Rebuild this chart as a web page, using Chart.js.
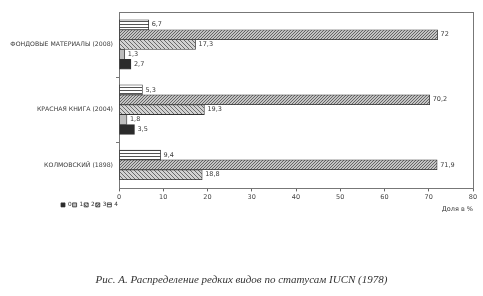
<!DOCTYPE html>
<html>
<head>
<meta charset="utf-8">
<script src="https://cdn.jsdelivr.net/npm/chart.js@4/dist/chart.umd.min.js"></script>
<style>
	html, body { margin: 0; padding: 0; background: #fff; }
	#wrap { width: 483px; height: 296px; position: relative; }
</style>
</head>
<body>
<div id="wrap"><canvas id="chart"></canvas></div>
<script>
// categories, top to bottom
var categories = ['ФОНДОВЫЕ МАТЕРИАЛЫ (2008)', 'КРАСНАЯ КНИГА (2004)', 'КОЛМОВСКИЙ (1898)'];
// IUCN statuses, values in %
var status4 = [6.7, 5.3, 9.4];
var status3 = [72, 70.2, 71.9];
var status2 = [17.3, 19.3, 18.8];
var status1 = [1.3, 1.8, null];
var status0 = [2.7, 3.5, null];
var xMin = 0, xMax = 80, xStep = 10;
var xTitle = 'Доля в %';
var caption = 'Рис. А. Распределение редких видов по статусам IUCN (1978)';

// the last band is cut off by the axis in the original
var yMax = 2.21;

Chart.defaults.font.family = 'DejaVu Sans';
Chart.defaults.font.size = 6.5;
Chart.defaults.color = '#3a3a3a';

function makePattern(kind) {
	var c = document.createElement('canvas');
	var g = c.getContext('2d');
	if (kind == 'hlines') {
		c.width = 3; c.height = 3;
		g.fillStyle = '#fff'; g.fillRect(0, 0, 3, 3);
		g.fillStyle = '#555'; g.fillRect(0, 0, 3, 1);
	} else if (kind == 'dense') {
		c.width = 3; c.height = 3;
		g.fillStyle = '#c4c4c4'; g.fillRect(0, 0, 3, 3);
		g.fillStyle = '#666';
		g.fillRect(0, 2, 1, 1); g.fillRect(1, 1, 1, 1); g.fillRect(2, 0, 1, 1);
	} else {
		c.width = 4; c.height = 4;
		g.fillStyle = '#d2d2d2'; g.fillRect(0, 0, 4, 4);
		g.fillStyle = '#6a6a6a';
		g.fillRect(0, 0, 1, 1); g.fillRect(1, 1, 1, 1); g.fillRect(2, 2, 1, 1); g.fillRect(3, 3, 1, 1);
	}
	return g.createPattern(c, 'repeat');
}

function points(values) {
	var out = [];
	values.forEach(function(v, i) {
		if (v !== null) out.push({ x: v, y: i });
	});
	return out;
}

var series = [
	{ label: '4', values: status4, fill: makePattern('hlines') },
	{ label: '3', values: status3, fill: makePattern('dense') },
	{ label: '2', values: status2, fill: makePattern('diag') },
	{ label: '1', values: status1, fill: '#bdbdbd' },
	{ label: '0', values: status0, fill: '#2b2b2b' }
];

var datasets = series.map(function(s) {
	return {
		label: s.label,
		data: points(s.values),
		backgroundColor: s.fill,
		borderColor: '#333',
		borderWidth: 0.8,
		borderSkipped: false,
		barThickness: 'flex',
		categoryPercentage: 0.76,
		barPercentage: 1
	};
});

var valueLabels = {
	id: 'valueLabels',
	afterDatasetsDraw: function(chart) {
		var ctx = chart.ctx;
		ctx.save();
		ctx.font = '6.5px "DejaVu Sans"';
		ctx.fillStyle = '#3a3a3a';
		ctx.textBaseline = 'middle';
		chart.data.datasets.forEach(function(ds, i) {
			chart.getDatasetMeta(i).data.forEach(function(bar, j) {
				ctx.fillText(String(ds.data[j].x).replace('.', ','), bar.x + 3, bar.y);
			});
		});
		ctx.restore();
	}
};

var frame = {
	id: 'frame',
	beforeDatasetsDraw: function(chart) {
		var a = chart.chartArea, ctx = chart.ctx, y = chart.scales.y;
		ctx.save();
		ctx.strokeStyle = '#777';
		ctx.lineWidth = 1;
		ctx.strokeRect(Math.round(a.left) + 0.5, Math.round(a.top) + 0.5, Math.round(a.right - a.left), Math.round(a.bottom - a.top));
		[0.5, 1.5].forEach(function(v) {
			var py = Math.round(y.getPixelForValue(v)) + 0.5;
			ctx.beginPath();
			ctx.moveTo(a.left - 3, py);
			ctx.lineTo(a.left, py);
			ctx.stroke();
		});
		ctx.restore();
	}
};

// legend sits under the category labels, caption centred on the page
var boxShift = {
	id: 'boxShift',
	afterLayout: function(chart) {
		chart.legend.left = 60;
		chart.titleBlock.right = chart.width;
	}
};

new Chart(document.getElementById('chart'), {
	type: 'bar',
	data: { datasets: datasets },
	options: {
		indexAxis: 'y',
		responsive: true,
		maintainAspectRatio: false,
		animation: false,
		layout: { padding: { top: 12, right: 10, left: 0, bottom: 0 } },
		scales: {
			x: {
				type: 'linear',
				min: xMin,
				max: xMax,
				ticks: { stepSize: xStep, padding: 2, color: '#444' },
				grid: { drawOnChartArea: false, tickLength: 3, color: '#666' },
				border: { color: '#666' },
				title: {
					display: true,
					text: xTitle,
					align: 'end',
					color: '#333',
					font: { size: 6.5 },
					padding: { top: 2, bottom: -12 }
				}
			},
			y: {
				type: 'linear',
				reverse: true,
				offset: false,
				min: -0.5,
				max: yMax,
				afterBuildTicks: function(axis) {
					axis.ticks = [0, 1, (1.5 + yMax) / 2].map(function(v) { return { value: v }; });
				},
				afterFit: function(axis) { axis.width = 119; },
				ticks: {
					padding: 6,
					color: '#3a3a3a',
					font: { size: 6.2 },
					callback: function(v, i) { return categories[i]; }
				},
				grid: { display: false, drawTicks: false, tickLength: 0 },
				border: { display: false }
			}
		},
		plugins: {
			legend: {
				position: 'bottom',
				align: 'start',
				reverse: true,
				labels: { boxWidth: 4, boxHeight: 4, padding: 1, font: { size: 5.8 }, color: '#333' }
			},
			title: {
				display: true,
				position: 'bottom',
				text: caption,
				color: '#333',
				font: { family: 'Liberation Serif', style: 'italic', weight: 'normal', size: 11 },
				padding: { top: 56, bottom: 9 }
			},
			tooltip: { enabled: false }
		}
	},
	plugins: [frame, valueLabels, boxShift]
});
</script>
</body>
</html>
